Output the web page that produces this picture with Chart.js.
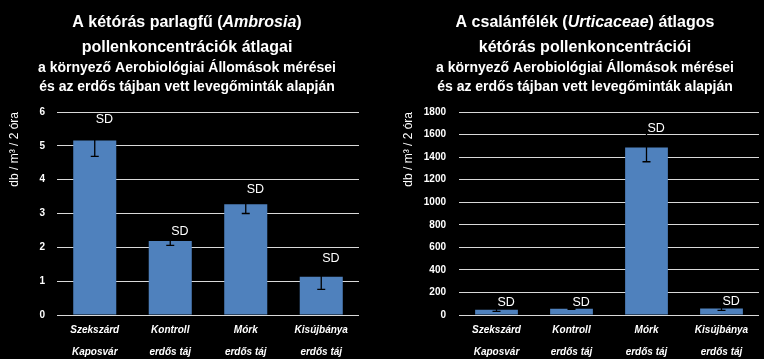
<!DOCTYPE html>
<html>
<head>
<meta charset="utf-8">
<script src="https://cdn.jsdelivr.net/npm/chart.js@4.4.1/dist/chart.umd.min.js"></script>
<style>
  html, body { margin: 0; padding: 0; background: #000; }
  body { width: 764px; height: 359px; position: relative; overflow: hidden; }
  .box { position: absolute; top: 0; height: 359px; }
  #b1 { left: 0; width: 374px; }
  #b2 { left: 396px; width: 368px; }
</style>
</head>
<body>
<div class="box" id="b1"><canvas id="c1"></canvas></div>
<div class="box" id="b2"><canvas id="c2"></canvas></div>
<script>
// ---- data ----
const categoriesLine1 = ['Szekszárd', 'Kontroll', 'Mórk', 'Kisújbánya'];
const categoriesLine2 = ['Kaposvár', 'erdős táj', 'erdős táj', 'erdős táj'];
const ambrosiaMeans = [5.16, 2.19, 3.27, 1.13];
const ambrosiaSD = [0.47, 0.13, 0.27, 0.37];
const urticaceaeMeans = [47, 56, 1485, 57];
const urticaceaeSD = [15, 5, 126, 16];
const ambrosiaTicks = { max: 6, step: 1 };
const urticaceaeTicks = { max: 1800, step: 200 };
const yAxisTitle = 'db / m³ / 2 óra';
const errorLabel = 'SD';
// title lines: segments [text, italic]
const ambrosiaTitle = [
  [['A kétórás parlagfű (', false], ['Ambrosia', true], [')', false]],
  [['pollenkoncentrációk átlagai', false]]
];
const urticaceaeTitle = [
  [['A csalánfélék (', false], ['Urticaceae', true], [') átlagos', false]],
  [['kétórás pollenkoncentrációi', false]]
];
const subtitleLines = [
  'a környező Aerobiológiai Állomások mérései',
  'és az erdős tájban vett levegőminták alapján'
];

const FONT = '"Liberation Sans", Arial, sans-serif';
const BAR = '#4f81bd';

const labels = categoriesLine1.map((a, i) => [a, categoriesLine2[i]]);

function titlePlugin(lines, centerX) {
  return {
    id: 'customTitle',
    afterDraw(chart) {
      const ctx = chart.ctx;
      ctx.save();
      ctx.fillStyle = '#ffffff';
      ctx.textBaseline = 'middle';
      const ys = [23, 48];
      lines.forEach((segs, li) => {
        let total = 0;
        segs.forEach(([t, it]) => {
          ctx.font = (it ? 'italic ' : '') + 'bold 16px ' + FONT;
          total += ctx.measureText(t).width;
        });
        let x = centerX - total / 2;
        ctx.textAlign = 'left';
        segs.forEach(([t, it]) => {
          ctx.font = (it ? 'italic ' : '') + 'bold 16px ' + FONT;
          ctx.fillText(t, x, ys[li]);
          x += ctx.measureText(t).width;
        });
      });
      ctx.font = 'bold 14px ' + FONT;
      ctx.textAlign = 'center';
      const sys = [68, 87];
      subtitleLines.forEach((t, i) => ctx.fillText(t, centerX, sys[i]));
      ctx.restore();
    }
  };
}

function errorPlugin(sds) {
  return {
    id: 'errorBars',
    afterDatasetsDraw(chart) {
      const ctx = chart.ctx;
      const meta = chart.getDatasetMeta(0);
      const ys = chart.scales.y;
      const vals = chart.data.datasets[0].data;
      ctx.save();
      meta.data.forEach((bar, i) => {
        const x = bar.x;
        const top = ys.getPixelForValue(vals[i] + sds[i]);
        const bot = ys.getPixelForValue(vals[i] - sds[i]);
        ctx.strokeStyle = '#000000';
        ctx.lineWidth = 1.3;
        ctx.beginPath();
        ctx.moveTo(x, top); ctx.lineTo(x, bot);
        ctx.moveTo(x - 4, top); ctx.lineTo(x + 4, top);
        ctx.moveTo(x - 4, bot); ctx.lineTo(x + 4, bot);
        ctx.stroke();
        ctx.fillStyle = '#ffffff';
        ctx.font = '12.5px ' + FONT;
        ctx.textAlign = 'left';
        ctx.textBaseline = 'bottom';
        ctx.fillText(errorLabel, x + 1, top + 1);
      });
      ctx.restore();
    }
  };
}

function makeChart(id, values, sds, ticksCfg, titleLines, axisWidth, titleCenter, rightPad, tickPad, titlePadTop) {
  return new Chart(document.getElementById(id), {
    type: 'bar',
    data: {
      labels: labels,
      datasets: [{ data: values, backgroundColor: BAR, borderWidth: 0,
        categoryPercentage: 1, barPercentage: 0.57 }]
    },
    options: {
      responsive: false,
      animation: false,
      devicePixelRatio: 1,
      layout: { padding: { top: 112, right: rightPad, bottom: 0, left: 0 } },
      plugins: { legend: { display: false }, tooltip: { enabled: false }, title: { display: false } },
      scales: {
        x: {
          afterFit(s) { s.height = 44; },
          grid: { display: false, drawTicks: false },
          border: { display: false },
          ticks: {
            color: '#ffffff',
            font: { family: FONT, size: 10, style: 'italic', weight: 'bold', lineHeight: 2.2 },
            padding: 4,
            maxRotation: 0, autoSkip: false
          }
        },
        y: {
          min: 0, max: ticksCfg.max,
          afterFit(s) { s.width = axisWidth; },
          grid: { color: '#d9d9d9', lineWidth: 1, drawTicks: false },
          border: { display: false },
          ticks: {
            stepSize: ticksCfg.step,
            color: '#ffffff',
            padding: tickPad,
            font: { family: FONT, size: 10, weight: 'bold' },
            callback: (v) => String(v)
          },
          title: {
            display: true, text: yAxisTitle, color: '#ffffff', align: 'end',
            font: { family: FONT, size: 12 },
            padding: { top: titlePadTop, bottom: 0 }
          }
        }
      }
    },
    plugins: [titlePlugin(titleLines, titleCenter), errorPlugin(sds)]
  });
}

const c1 = document.getElementById('c1'); c1.width = 374; c1.height = 359;
const c2 = document.getElementById('c2'); c2.width = 368; c2.height = 359;
makeChart('c1', ambrosiaMeans, ambrosiaSD, ambrosiaTicks, ambrosiaTitle, 57, 187, 15, 12, 7);
makeChart('c2', urticaceaeMeans, urticaceaeSD, urticaceaeTicks, urticaceaeTitle, 63, 189, 5, 13, 5);
</script>
</body>
</html>
